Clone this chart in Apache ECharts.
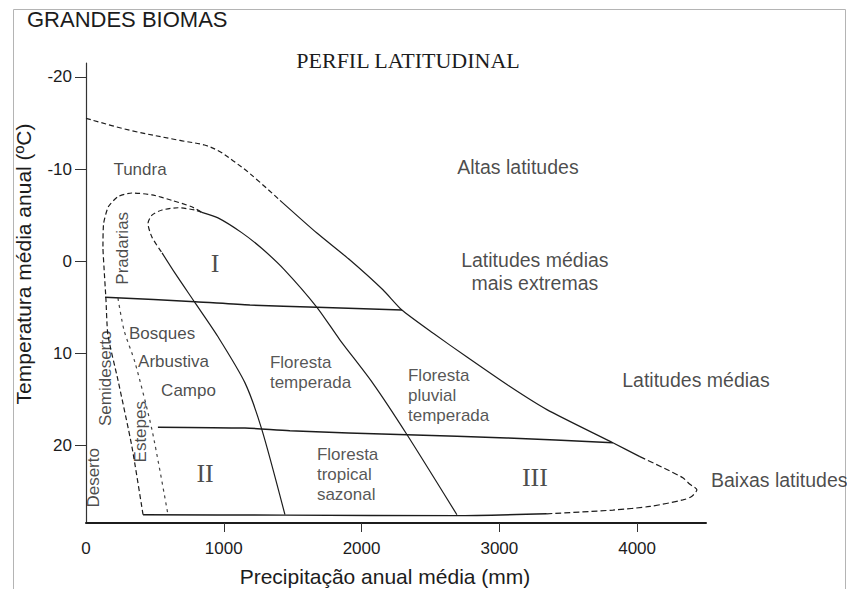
<!DOCTYPE html>
<html><head><meta charset="utf-8">
<script src="https://cdn.jsdelivr.net/npm/echarts@6/dist/echarts.min.js"></script>
<style>html,body{margin:0;padding:0;background:#fff}#c{width:847px;height:589px}</style>
</head><body><div id="c"></div>
<script>
// ---- axis ticks ----
const xTicks = [0, 1000, 2000, 3000, 4000];
const yTicks = [-20, -10, 0, 10, 20];

// ---- boundary curves: [precipitação mm, temperatura °C] ----
const outerTop = [[0,-15.5],[319,-14.2],[682,-13.1],[860,-12.6],[970,-11.9],[1067,-10.9],[1190,-9.5],[1408,-6.6]];
const outerMain = [[1408,-6.6],[1676,-3.05],[1916,-0.13],[2155,3.1],[2293,5.3],[2518,7.8],[2765,10.4],[3077,13.6],[3345,16.1],[3824,19.7],[4020,21.2]];
const outerTip = [[4020,21.2],[4216,22.6],[4332,23.5],[4383,24.2],[4434,24.8],[4398,25.5],[4332,25.9],[4093,26.6],[3824,27.0],[3345,27.4]];
const outerBottom = [[3345,27.4],[2692,27.6],[1444,27.55],[414,27.5]];
const pradariasCurve = [[414,27.5],[333,20.1],[232,12.9],[159,8.0],[145,4.2],[130,0.5],[123,-1.5],[128,-4.1],[162,-5.9],[232,-7.0],[333,-7.4],[478,-7.2],[623,-6.6],[768,-5.9],[841,-5.3]];
const temperadaBoundary = [[841,-5.3],[958,-4.7],[1130,-3.1],[1275,-1.4],[1442,0.96],[1676,5.0],[1841,8.5],[2080,13.2],[2329,18.8],[2692,27.5]];
const innerTop = [[841,-5.3],[791,-5.55],[668,-5.8],[552,-5.55],[479,-5.0],[450,-4.1],[479,-2.6],[552,-0.9]];
const innerSide = [[552,-0.9],[646,1.3],[791,4.5],[958,8.2],[1154,13.2],[1277,18.3],[1444,27.5]];
const estepesLine = [[232,4.0],[276,7.5],[356,11.0],[479,18.3],[595,27.5]];
const upperLatLine = [[138,3.9],[791,4.4],[1190,4.75],[1676,5.0],[2293,5.3]];
const lowerLatLine = [[522,18.0],[1154,18.1],[1480,18.4],[2329,18.84],[3055,19.17],[3824,19.7]];

// ---- region labels: [text, precipitação, temperatura] ----
const latitudeLabels = [
  ['Altas latitudes', 3135, -10.2],
  ['Latitudes médias\nmais extremas', 3258, 1.1],
  ['Latitudes médias', 4427, 12.9]
];
const latitudeLabelsLeft = [['Baixas latitudes', 4536, 23.7]];
const biomeLabels = [
  ['Tundra', 392, -10.0],
  ['Bosques', 552, 7.8],
  ['Arbustiva', 635, 10.9],
  ['Campo', 744, 14.0]
];
const biomeLabelsLeft = [
  ['Floresta\ntemperada', 1335, 12.1],
  ['Floresta\npluvial\ntemperada', 2337, 14.6],
  ['Floresta\ntropical\nsazonal', 1676, 23.1]
];
const biomeLabelsVertical = [
  ['Pradarias', 262, -1.4],
  ['Semideserto', 145, 12.7],
  ['Estepes', 392, 18.5],
  ['Deserto', 51, 23.5]
];
const zoneNumerals = [['I', 936, 0.2], ['II', 864, 23.0], ['III', 3258, 23.5]];

const INK = '#1c1c1c';
function lineSeries(data, opts) {
  opts = opts || {};
  return {
    type: 'line', data: data, showSymbol: false, symbol: 'none', silent: true,
    smooth: opts.smooth === undefined ? 0.25 : opts.smooth, clip: false, animation: false,
    lineStyle: { color: opts.color || INK, width: opts.width || 1.2, type: opts.dash || 'solid' }
  };
}
function labelSeries(items, style) {
  return {
    type: 'scatter', symbol: 'circle', symbolSize: 1, silent: true, clip: false, animation: false, z: 5,
    itemStyle: { color: 'rgba(0,0,0,0)' },
    data: items.map(function (it) {
      return { value: [it[1], it[2]], label: Object.assign({ show: true, formatter: it[0], position: 'inside' }, style) };
    })
  };
}
const SANS = 'Liberation Sans';
const SERIF = 'Liberation Serif';

const chart = echarts.init(document.getElementById('c'), null, { renderer: 'svg' });
chart.setOption({
  backgroundColor: '#ffffff',
  animation: false,
  grid: { left: 86, right: 141, top: 63, bottom: 66, containLabel: false },
  xAxis: {
    type: 'value', min: 0, max: 4500, position: 'bottom',
    axisLine: { show: true, onZero: false, lineStyle: { color: INK, width: 2 } },
    axisTick: { show: true, inside: false, length: 9, customValues: [1000, 2000, 3000, 4000], lineStyle: { color: '#333', width: 1 } },
    axisLabel: { show: true, customValues: xTicks, margin: 17, color: INK, fontFamily: SANS, fontSize: 17, formatter: function (v) { return String(v); } },
    splitLine: { show: false }
  },
  yAxis: {
    type: 'value', inverse: true, min: -21.5, max: 28.4,
    axisLine: { show: true, onZero: false, lineStyle: { color: '#333', width: 1.2 } },
    axisTick: { show: true, inside: false, length: 11, customValues: yTicks, lineStyle: { color: '#333', width: 1 } },
    axisLabel: { show: true, customValues: yTicks, margin: 14, color: INK, fontFamily: SANS, fontSize: 17, formatter: function (v) { return String(v); } },
    splitLine: { show: false }
  },
  series: [
    lineSeries(outerTop, { dash: [5, 3], smooth: 0.35 }),
    lineSeries(outerMain, { smooth: 0.2 }),
    lineSeries(outerTip, { dash: [6, 3] }),
    lineSeries(outerBottom, { smooth: 0.2, width: 1.4 }),
    lineSeries(pradariasCurve, { dash: [5, 3], smooth: 0.2 }),
    lineSeries(temperadaBoundary),
    lineSeries(innerTop, { dash: [5, 3] }),
    lineSeries(innerSide),
    lineSeries(estepesLine, { dash: [3, 4], color: '#444' }),
    lineSeries(upperLatLine, { width: 1.5 }),
    lineSeries(lowerLatLine, { width: 1.5 }),
    labelSeries(latitudeLabels, { color: INK, fontFamily: SANS, fontSize: 19.5, lineHeight: 23, align: 'center' }),
    labelSeries(latitudeLabelsLeft, { color: INK, fontFamily: SANS, fontSize: 19.5, align: 'left' }),
    labelSeries(biomeLabels, { color: INK, fontFamily: SANS, fontSize: 17, align: 'center' }),
    labelSeries(biomeLabelsLeft, { color: '#2a2a2a', fontFamily: SANS, fontSize: 17, lineHeight: 20, align: 'left' }),
    labelSeries(biomeLabelsVertical, { color: INK, fontFamily: SANS, fontSize: 17, rotate: 90, align: 'center', verticalAlign: 'middle' }),
    labelSeries(zoneNumerals, { color: INK, fontFamily: SERIF, fontSize: 26, align: 'center' })
  ],
  graphic: [
    { type: 'rect', silent: true, z: -1, shape: { x: 13.5, y: 9.5, width: 832, height: 600 }, style: { fill: 'none', stroke: '#b4b4b4', lineWidth: 1 } },
    { type: 'text', silent: true, x: 27, y: 19, style: { text: 'GRANDES BIOMAS', font: '22px "Liberation Sans"', fill: INK, textAlign: 'left', textVerticalAlign: 'middle' } },
    { type: 'text', silent: true, x: 408, y: 60, style: { text: 'PERFIL LATITUDINAL', font: '22px "Liberation Serif"', fill: INK, textAlign: 'center', textVerticalAlign: 'middle' } },
    { type: 'text', silent: true, x: 23, y: 264, rotation: Math.PI / 2, style: { text: 'Temperatura média anual (ºC)', font: '21px "Liberation Sans"', fill: INK, textAlign: 'center', textVerticalAlign: 'middle' } },
    { type: 'text', silent: true, x: 385, y: 576, style: { text: 'Precipitação anual média (mm)', font: '21px "Liberation Sans"', fill: INK, textAlign: 'center', textVerticalAlign: 'middle' } }
  ]
});
</script>
</body></html>
